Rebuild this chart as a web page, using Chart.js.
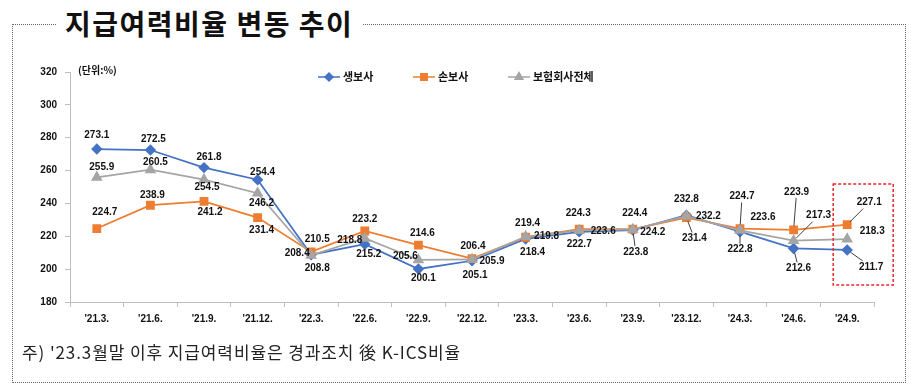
<!DOCTYPE html>
<html>
<head>
<meta charset="utf-8">
<script src="https://cdn.jsdelivr.net/npm/chart.js@4"></script>
<style>
  body { margin: 0; background: #fff; }
  #wrap { position: relative; width: 922px; height: 387px; overflow: hidden; }
  #box { position: absolute; left: 12px; top: 24px; width: 892px; height: 357px; border: 1px dotted #666; }
  #title { position: absolute; left: 56px; top: 2px; padding: 0 9px; background: #fff;
           font: bold 28px "Noto Sans CJK KR"; letter-spacing: 1.5px; color: #111; line-height: 42px; }
  #unit { position: absolute; left: 78px; top: 62px; font: bold 10px "Noto Sans CJK KR"; color: #111; }
  #note { position: absolute; left: 22px; top: 339px; font: 17px "Noto Sans CJK KR"; color: #222; letter-spacing: 0.9px; }
  canvas { position: absolute; left: 0; top: 0; }
</style>
</head>
<body>
<div id="wrap">
  <div id="box"></div>
  <div id="title">지급여력비율 변동 추이</div>
  <canvas id="myChart" width="922" height="387"></canvas>
  <div id="unit">(단위:%)</div>
  <div id="note">주) '23.3월말 이후 지급여력비율은 경과조치 後 K-ICS비율</div>
</div>
<script>
  const categories = ["'21.3.", "'21.6.", "'21.9.", "'21.12.", "'22.3.", "'22.6.", "'22.9.", "'22.12.",
    "'23.3.", "'23.6.", "'23.9.", "'23.12.", "'24.3.", "'24.6.", "'24.9."];

  const lifeRatio = [273.1, 272.5, 261.8, 254.4, 208.8, 215.2, 200.1, 205.1, 218.4, 222.7, 223.8, 232.8, 222.8, 212.6, 211.7];
  const nonLifeRatio = [224.7, 238.9, 241.2, 231.4, 210.5, 223.2, 214.6, 206.4, 219.4, 224.3, 224.4, 231.4, 224.7, 223.9, 227.1];
  const totalRatio = [255.9, 260.5, 254.5, 246.2, 208.4, 218.8, 205.6, 205.9, 219.8, 223.6, 224.2, 232.2, 223.6, 217.3, 218.3];

  const yTicks = [180, 200, 220, 240, 260, 280, 300, 320];

  // label offsets from each point [dx, dy, leader line]
  const lifeLabelPos = [[0,-14],[3,-11],[5,-10],[5,-8],[6,14],[4,10],[5,9],[3,14],[7,13],[0,12],[3,22,true],[0,-16],[0,18,true],[5,20,true],[24,17,true]];
  const nonLifeLabelPos = [[8,-16],[2,-10],[6,11],[4,13],[6,-13],[0,-12],[4,-12],[1,-12],[2,-14],[-1,-16],[2,-16],[8,21,true],[2,-32,true],[3,-38,true],[22,-22,true]];
  const totalLabelPos = [[5,-10],[5,-8],[3,8],[4,10],[-14,-2],[-15,2],[-13,-4],[20,2],[21,0],[24,1],[20,3],[22,0],[23,-13],[25,-25,true],[25,-8]];

  const numFont = 'bold 10px "Liberation Sans"';

  const labelPlugin = {
    id: 'pointLabels',
    afterDatasetsDraw(chart) {
      const ctx = chart.ctx;
      ctx.save();
      ctx.font = numFont;
      ctx.textAlign = 'center';
      ctx.textBaseline = 'middle';
      chart.data.datasets.forEach((ds, di) => {
        const meta = chart.getDatasetMeta(di);
        meta.data.forEach((pt, i) => {
          const [dx, dy, leader] = ds.labelPos[i];
          const txt = ds.data[i].toFixed(1);
          const lx = pt.x + dx, ly = pt.y + dy;
          if (leader) {
            const len = Math.hypot(dx, dy);
            const hw = ctx.measureText(txt).width / 2 + 1, hh = 6;
            const t = Math.min(dx ? hw / Math.abs(dx) : 99, dy ? hh / Math.abs(dy) : 99);
            ctx.strokeStyle = '#404040';
            ctx.lineWidth = 1;
            ctx.beginPath();
            ctx.moveTo(pt.x + dx / len * 4, pt.y + dy / len * 4);
            ctx.lineTo(lx - dx * t, ly - dy * t);
            ctx.stroke();
          }
          ctx.fillStyle = '#111';
          ctx.fillText(txt, lx, ly);
        });
      });
      ctx.restore();
    }
  };

  const legendPlugin = {
    id: 'lineLegend',
    afterDraw(chart) {
      const ctx = chart.ctx;
      const items = [[318, 0], [413, 1], [508, 2]];
      ctx.save();
      ctx.font = 'bold 11px "Noto Sans CJK KR"';
      ctx.textBaseline = 'middle';
      items.forEach(([x, di]) => {
        const ds = chart.data.datasets[di];
        const y = 77;
        ctx.strokeStyle = ds.borderColor;
        ctx.lineWidth = 1.5;
        ctx.beginPath();
        ctx.moveTo(x, y);
        ctx.lineTo(x + 22, y);
        ctx.stroke();
        Chart.helpers.drawPoint(ctx, {pointStyle: ds.pointStyle, radius: ds.pointRadius - 0.5, borderWidth: 1}, x + 11, y);
        ctx.fillStyle = ds.borderColor;
        ctx.fill();
        ctx.fillStyle = '#111';
        ctx.fillText(ds.label, x + 25, y);
      });
      ctx.restore();
    }
  };

  const boxPlugin = {
    id: 'highlightBox',
    afterDraw(chart) {
      const ctx = chart.ctx;
      const x = chart.scales.x.getPixelForValue(categories.length - 1);
      const top = chart.chartArea.top;
      ctx.save();
      ctx.strokeStyle = '#e8282b';
      ctx.lineWidth = 1.5;
      ctx.setLineDash([3, 2]);
      ctx.strokeRect(x - 14, top + 112, 60, 101);
      ctx.restore();
    }
  };

  const config = {
    type: 'line',
    data: {
      labels: categories,
      datasets: [{
        label: '생보사',
        data: lifeRatio,
        labelPos: lifeLabelPos,
        borderColor: '#4472C4',
        backgroundColor: '#4472C4',
        pointStyle: 'rectRot',
        pointRadius: 4.5,
        borderWidth: 1.75,
        order: 3
      }, {
        label: '손보사',
        data: nonLifeRatio,
        labelPos: nonLifeLabelPos,
        borderColor: '#ED7D31',
        backgroundColor: '#ED7D31',
        pointStyle: 'rect',
        pointRadius: 5,
        borderWidth: 1.75,
        order: 2
      }, {
        label: '보험회사전체',
        data: totalRatio,
        labelPos: totalLabelPos,
        borderColor: '#A5A5A5',
        backgroundColor: '#A5A5A5',
        pointStyle: 'triangle',
        pointRadius: 5,
        borderWidth: 1.75,
        order: 1
      }]
    },
    options: {
      responsive: false,
      animation: false,
      layout: { padding: { left: 20, right: 48, top: 72, bottom: 55 } },
      plugins: { legend: { display: false }, tooltip: { enabled: false } },
      scales: {
        x: {
          offset: true,
          grid: { drawOnChartArea: false, drawTicks: true, tickLength: 5, color: '#bfbfbf', offset: true },
          border: { color: '#bfbfbf' },
          ticks: { color: '#111', font: { family: 'Liberation Sans', weight: 'bold', size: 10 }, maxRotation: 0, padding: 6 },
          afterFit(scale) { scale.height = 30; }
        },
        y: {
          min: 180,
          max: 320,
          afterBuildTicks(scale) { scale.ticks = yTicks.map(v => ({ value: v })); },
          grid: { drawOnChartArea: false, drawTicks: true, tickLength: 5, color: '#bfbfbf' },
          border: { color: '#bfbfbf' },
          ticks: { color: '#111', font: { family: 'Liberation Sans', weight: 'bold', size: 10 }, padding: 8 },
          afterFit(scale) { scale.width = 50; }
        }
      }
    },
    plugins: [labelPlugin, legendPlugin, boxPlugin]
  };

  const myChart = new Chart(document.getElementById('myChart'), config);
</script>
</body>
</html>
